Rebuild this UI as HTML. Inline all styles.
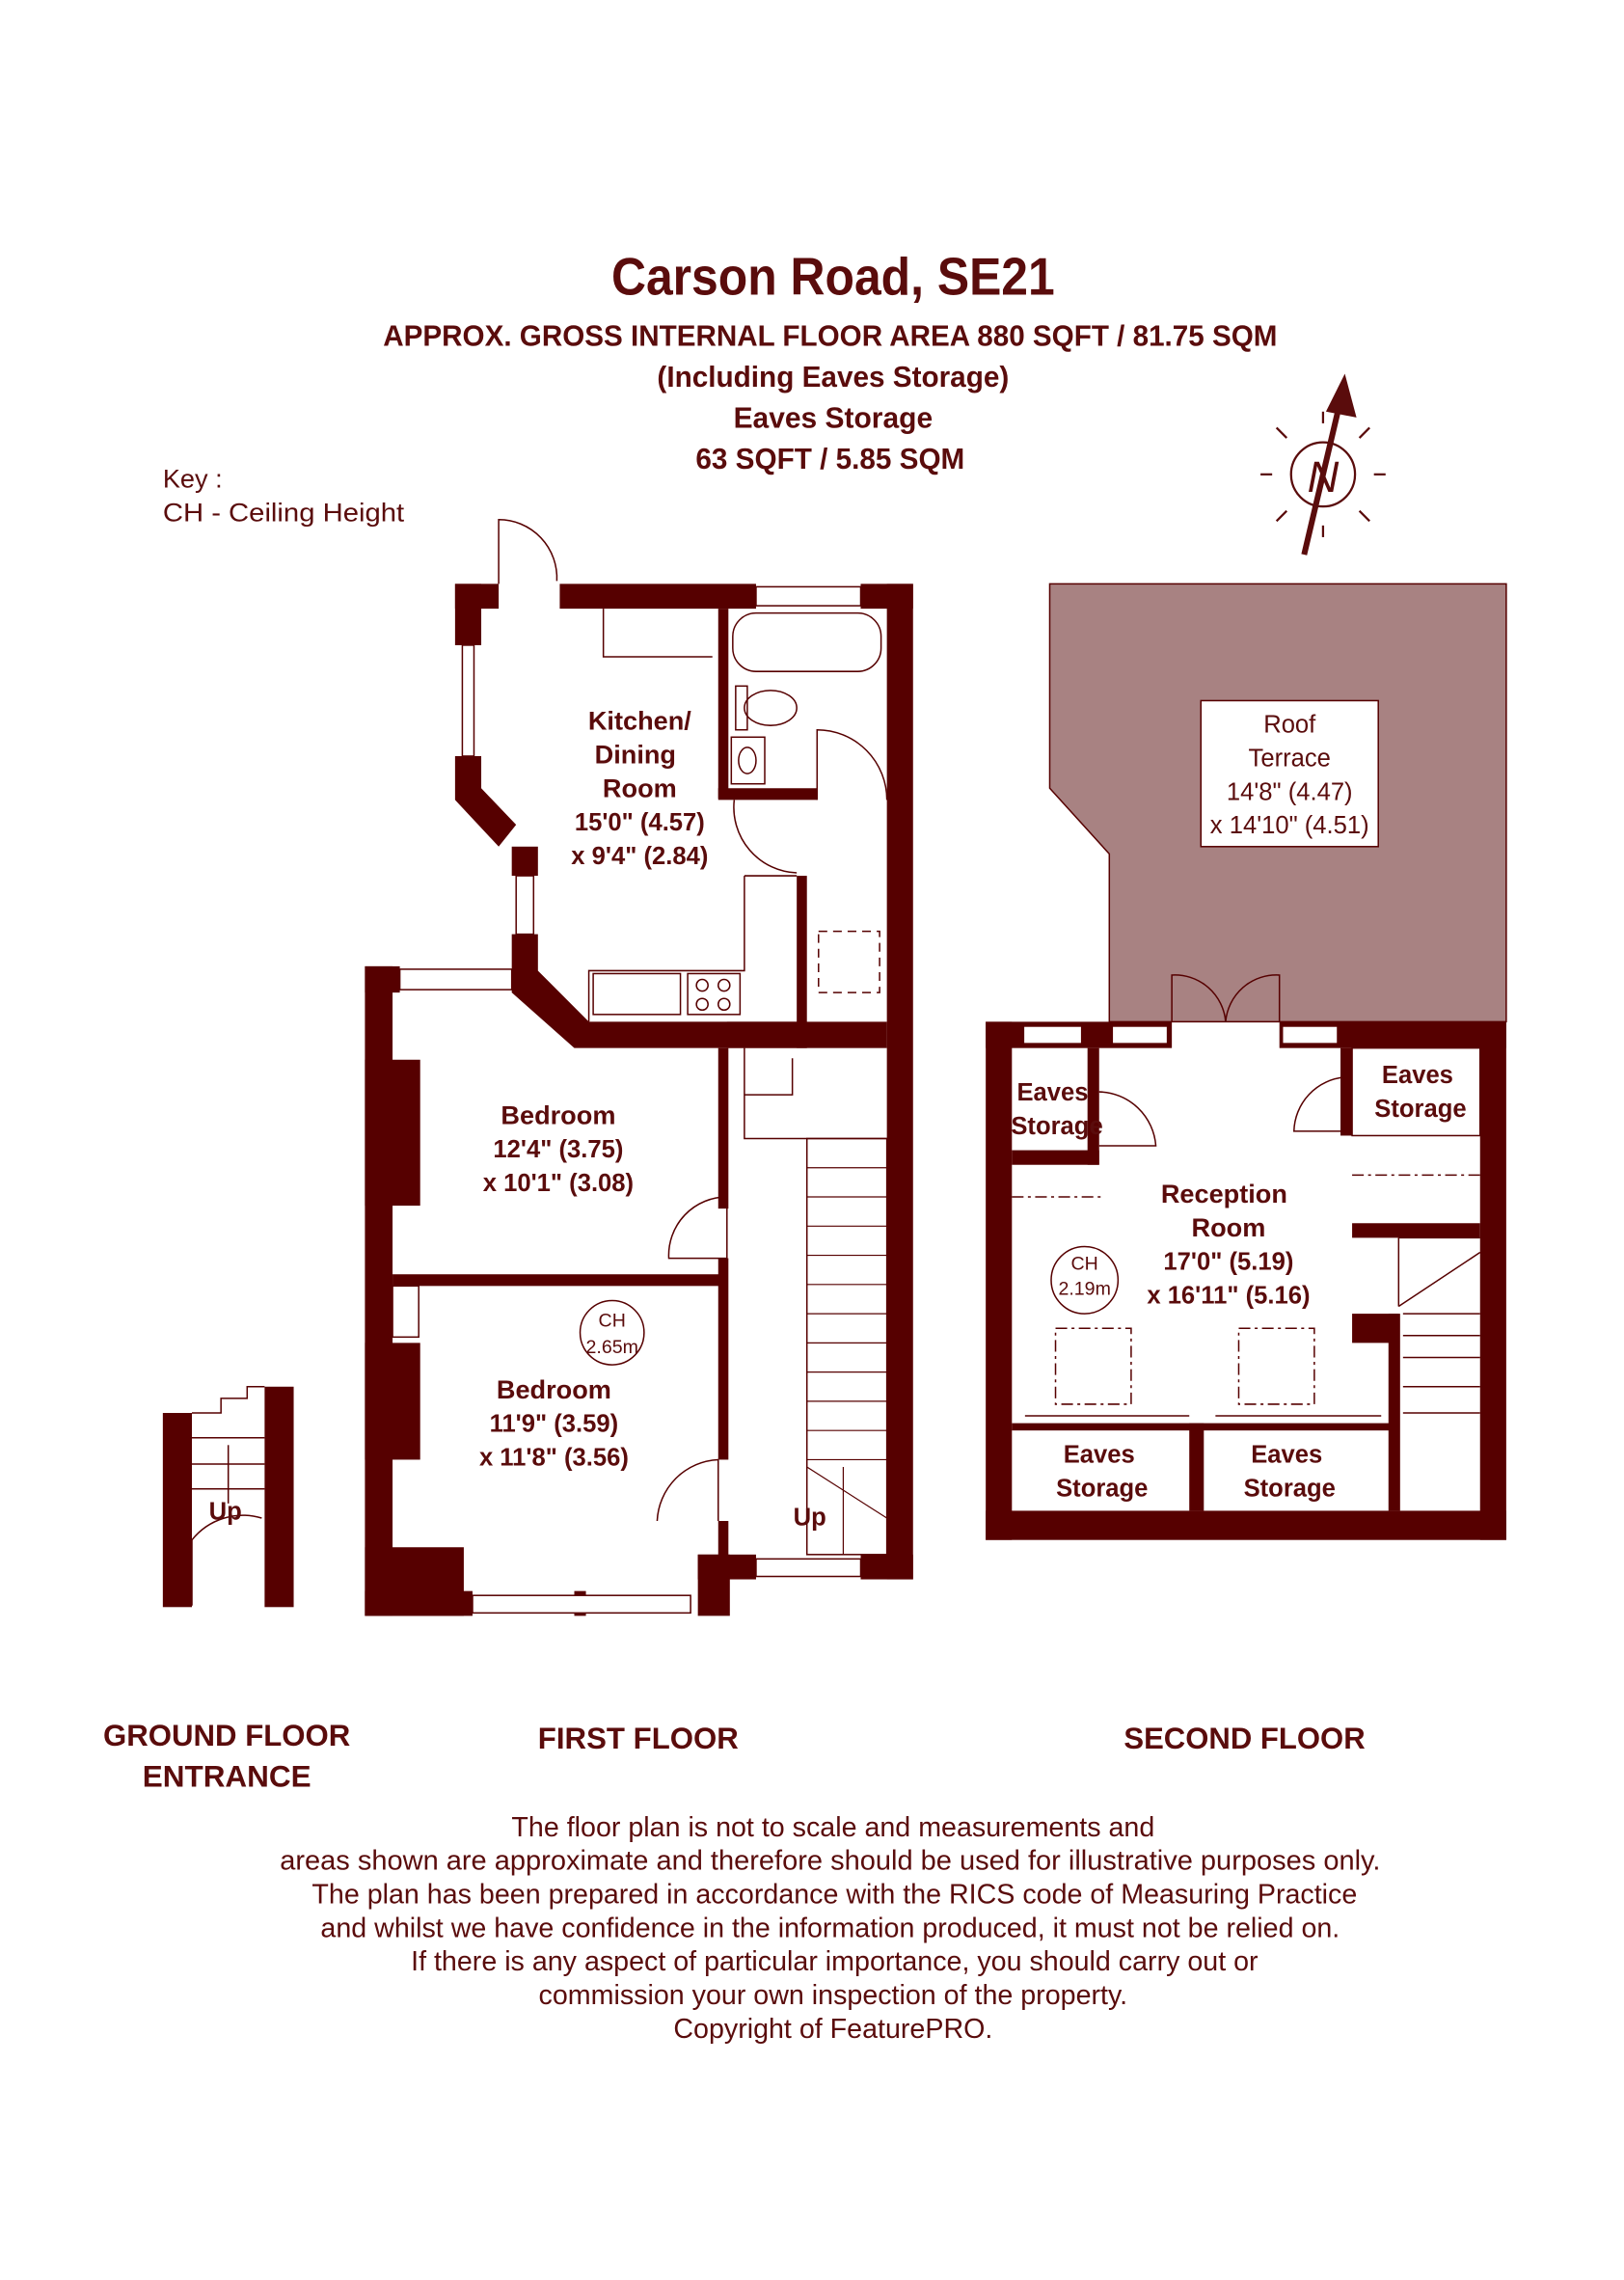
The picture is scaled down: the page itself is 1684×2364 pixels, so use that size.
<!DOCTYPE html>
<html><head><meta charset="utf-8"><style>
html,body{margin:0;padding:0;background:#fff;}
svg{display:block;}
text{font-family:"Liberation Sans",sans-serif;fill:#5a0c0c;}
.b{font-weight:bold;}
</style></head><body>
<svg width="1684" height="2364" viewBox="0 0 1117 1562" preserveAspectRatio="none" xmlns="http://www.w3.org/2000/svg">
<rect width="1117" height="1562" fill="#fff"/>
<text x="573" y="202" text-anchor="middle" class="b" font-size="36" textLength="305" lengthAdjust="spacingAndGlyphs">Carson Road, SE21</text>
<g class="b" font-size="20" text-anchor="middle" font-weight="bold">
<text x="571" y="237" font-weight="bold" textLength="615" lengthAdjust="spacingAndGlyphs">APPROX. GROSS INTERNAL FLOOR AREA 880 SQFT / 81.75 SQM</text>
<text x="573" y="265" font-weight="bold" textLength="242" lengthAdjust="spacingAndGlyphs">(Including Eaves Storage)</text>
<text x="573" y="293" font-weight="bold" textLength="137" lengthAdjust="spacingAndGlyphs">Eaves Storage</text>
<text x="571" y="321" font-weight="bold" textLength="185" lengthAdjust="spacingAndGlyphs">63 SQFT / 5.85 SQM</text>
</g>
<text x="112" y="334" font-size="18">Key :</text>
<text x="112" y="357" font-size="18" textLength="166" lengthAdjust="spacingAndGlyphs">CH - Ceiling Height</text>
<g stroke="#5a0c0c" fill="none" stroke-width="1.5">
<circle cx="910" cy="325" r="22"/>
<line x1="897" y1="380" x2="923" y2="270" stroke-width="4"/>
<line x1="875" y1="325" x2="867" y2="325"/><line x1="945" y1="325" x2="953" y2="325"/>
<line x1="885" y1="300" x2="878" y2="293"/><line x1="935" y1="300" x2="942" y2="293"/>
<line x1="885" y1="350" x2="878" y2="357"/><line x1="935" y1="350" x2="942" y2="357"/>
<line x1="910" y1="290" x2="910" y2="282"/><line x1="910" y1="360" x2="910" y2="368"/>
</g>
<polygon points="925,256 912,282 933,286" fill="#5a0c0c"/>
<text x="910" y="337" font-size="30" text-anchor="middle" font-style="italic" font-family="Liberation Serif,serif">N</text>

<g fill="#560000">
<rect x="313" y="400" width="30" height="17"/>
<rect x="385" y="400" width="135" height="17"/>
<rect x="592" y="400" width="36" height="17"/>
<rect x="313" y="400" width="18" height="42"/>
<rect x="313" y="518" width="18" height="30"/>
<polygon points="313,548 331,540 355,565 343,580"/>
<rect x="352" y="580" width="18" height="20"/>
<rect x="352" y="640" width="18" height="40"/>
<polygon points="352,680 370,665 405,700 555,700 555,718 395,718"/>
<rect x="610" y="400" width="18" height="682"/>
<rect x="251" y="662" width="24" height="18"/>
<rect x="251" y="662" width="19" height="445"/>
<rect x="251" y="726" width="38" height="100"/>
<rect x="251" y="920" width="38" height="80"/>
<rect x="251" y="1060" width="68" height="47"/>
<rect x="251" y="1090" width="74" height="17"/>
<rect x="395" y="1090" width="8" height="17"/>
<rect x="480" y="1065" width="22" height="42"/>
<rect x="480" y="1065" width="40" height="17"/>
<rect x="592" y="1065" width="36" height="17"/>
<rect x="494" y="417" width="7" height="130"/>
<rect x="494" y="540" width="68" height="8"/>
<rect x="548" y="600" width="7" height="118"/>
<rect x="270" y="873" width="230" height="8"/>
<rect x="494" y="718" width="7" height="110"/>
<rect x="494" y="862" width="7" height="138"/>
<rect x="494" y="1042" width="7" height="30"/>
<rect x="500" y="700" width="110" height="18"/>
</g>
<g fill="#fff" stroke="#560000" stroke-width="1">
<rect x="318" y="442" width="8" height="76"/>
<rect x="355" y="600" width="12" height="40"/>
<rect x="520" y="402" width="72" height="13"/>
<rect x="275" y="664" width="77" height="14"/>
<rect x="325" y="1093" width="150" height="12"/>
<rect x="520" y="1068" width="72" height="12"/>
</g>
<g fill="none" stroke="#560000" stroke-width="1">
<path d="M343,400 L343,356 A40,40 0 0 1 383,398"/>
<path d="M562,548 L562,500 A48,48 0 0 1 610,548"/>
<path d="M505,548 A45,45 0 0 0 548,598"/>
<path d="M460,862 A40,40 0 0 1 500,820 L500,862 Z"/>
<path d="M452,1042 A44,44 0 0 1 494,1000 L494,1042"/>
<path d="M512,718 L512,780 L610,780"/>
<path d="M512,750 L545,750 L545,725"/>
<rect x="504" y="420" width="102" height="40" rx="16"/>
<ellipse cx="530" cy="485" rx="18" ry="12"/>
<rect x="506" y="470" width="8" height="30"/>
<rect x="503" y="505" width="23" height="32"/>
<ellipse cx="514" cy="521" rx="6" ry="9"/>
<polyline points="415,417 415,450 490,450"/>
<polyline points="512,600 548,600"/>
<polyline points="512,600 512,665 405,665 405,700"/>
<rect x="408" y="667" width="60" height="28"/>
<rect x="473" y="667" width="36" height="28"/>
<circle cx="483" cy="675" r="4"/><circle cx="498" cy="675" r="4"/>
<circle cx="483" cy="688" r="4"/><circle cx="498" cy="688" r="4"/>
<rect x="563" y="638" width="42" height="42" stroke-dasharray="6,4"/>
<rect x="555" y="780" width="55" height="285"/>
<g stroke-width="0.8">
<line x1="555" y1="800" x2="610" y2="800"/><line x1="555" y1="820" x2="610" y2="820"/>
<line x1="555" y1="840" x2="610" y2="840"/><line x1="555" y1="860" x2="610" y2="860"/>
<line x1="555" y1="880" x2="610" y2="880"/><line x1="555" y1="900" x2="610" y2="900"/>
<line x1="555" y1="920" x2="610" y2="920"/><line x1="555" y1="940" x2="610" y2="940"/>
<line x1="555" y1="960" x2="610" y2="960"/><line x1="555" y1="980" x2="610" y2="980"/>
<line x1="555" y1="1000" x2="610" y2="1000"/><line x1="555" y1="1005" x2="610" y2="1040"/>
<line x1="580" y1="1005" x2="580" y2="1065"/>
</g>
<rect x="270" y="881" width="18" height="35"/>
<circle cx="421" cy="913" r="22"/>
</g>
<g class="b" font-weight="bold" text-anchor="middle">
<text x="440" y="500" font-size="18">Kitchen/</text>
<text x="437" y="523" font-size="18">Dining</text>
<text x="440" y="546" font-size="18">Room</text>
<text x="440" y="569" font-size="17">15'0" (4.57)</text>
<text x="440" y="592" font-size="17">x 9'4" (2.84)</text>
<text x="384" y="770" font-size="18">Bedroom</text>
<text x="384" y="793" font-size="17">12'4" (3.75)</text>
<text x="384" y="816" font-size="17">x 10'1" (3.08)</text>
<text x="381" y="958" font-size="18">Bedroom</text>
<text x="381" y="981" font-size="17">11'9" (3.59)</text>
<text x="381" y="1004" font-size="17">x 11'8" (3.56)</text>
<text x="557" y="1045" font-size="17">Up</text>
</g>
<text x="421" y="909" font-size="13" text-anchor="middle">CH</text>
<text x="421" y="927" font-size="13" text-anchor="middle">2.65m</text>

<g fill="#560000">
<rect x="112" y="968" width="20" height="133"/>
<rect x="182" y="950" width="20" height="151"/>
</g>
<g fill="none" stroke="#560000" stroke-width="1">
<polyline points="132,968 152,968 152,958 170,958 170,950 182,950"/>
<line x1="132" y1="985" x2="182" y2="985"/><line x1="132" y1="1003" x2="182" y2="1003"/>
<line x1="132" y1="1020" x2="182" y2="1020"/>
<path d="M132,1100 L132,1055 A45,45 0 0 1 180,1040"/>
<line x1="157" y1="990" x2="157" y2="1030"/>
</g>
<text x="155" y="1041" font-size="17" text-anchor="middle" font-weight="bold">Up</text>

<polygon points="722,400 1036,400 1036,700 763,700 763,585 722,540" fill="#a88282" stroke="#560000" stroke-width="1"/>
<rect x="826" y="480" width="122" height="100" fill="#fff" stroke="#560000"/>
<text x="887" y="502" font-size="17" text-anchor="middle">Roof</text>
<text x="887" y="525" font-size="17" text-anchor="middle">Terrace</text>
<text x="887" y="548" font-size="17" text-anchor="middle">14'8" (4.47)</text>
<text x="887" y="571" font-size="17" text-anchor="middle">x 14'10" (4.51)</text>
<g fill="#560000">
<rect x="678" y="700" width="18" height="355"/>
<rect x="678" y="1035" width="358" height="20"/>
<rect x="1018" y="700" width="18" height="355"/>
<rect x="678" y="700" width="128" height="18"/>
<rect x="880" y="700" width="156" height="18"/>
<rect x="696" y="788" width="60" height="10"/>
<rect x="748" y="718" width="8" height="80"/>
<rect x="922" y="718" width="8" height="60"/>
<rect x="930" y="838" width="88" height="10"/>
<rect x="930" y="900" width="32" height="20"/>
<rect x="955" y="900" width="8" height="135"/>
<rect x="818" y="975" width="10" height="60"/>
<rect x="696" y="975" width="260" height="5"/>
</g>
<g fill="#fff" stroke="#560000" stroke-width="1">
<rect x="704" y="703" width="40" height="12"/>
<rect x="765" y="703" width="38" height="12"/>
<rect x="882" y="703" width="38" height="12"/>
<rect x="930" y="718" width="88" height="60"/>
</g>
<g fill="none" stroke="#560000" stroke-width="1">
<path d="M806,700 L806,668 A35,35 0 0 1 843,700"/>
<path d="M880,700 L880,668 A35,35 0 0 0 843,700"/>
<path d="M756,748 A40,40 0 0 1 795,785 L756,785"/>
<path d="M890,775 A38,38 0 0 1 925,738 L925,775 Z"/>
<line x1="696" y1="820" x2="758" y2="820" stroke-dasharray="8,3,2,3"/>
<line x1="930" y1="805" x2="1018" y2="805" stroke-dasharray="8,3,2,3"/>
<rect x="726" y="910" width="52" height="52" stroke-dasharray="8,3,2,3"/>
<rect x="852" y="910" width="52" height="52" stroke-dasharray="8,3,2,3"/>
<circle cx="746" cy="877" r="23"/>
<line x1="962" y1="848" x2="1018" y2="848"/>
<line x1="962" y1="895" x2="1018" y2="858"/>
<line x1="962" y1="848" x2="962" y2="895"/>
<line x1="965" y1="900" x2="1018" y2="900"/><line x1="965" y1="915" x2="1018" y2="915"/>
<line x1="965" y1="930" x2="1018" y2="930"/><line x1="965" y1="950" x2="1018" y2="950"/>
<line x1="965" y1="968" x2="1018" y2="968"/>
<line x1="705" y1="970" x2="818" y2="970"/><line x1="836" y1="970" x2="950" y2="970"/>
</g>
<g font-weight="bold" text-anchor="middle">
<text x="724" y="754" font-size="17">Eaves</text>
<text x="727" y="777" font-size="17">Storage</text>
<text x="975" y="742" font-size="17">Eaves</text>
<text x="977" y="765" font-size="17">Storage</text>
<text x="842" y="824" font-size="18">Reception</text>
<text x="845" y="847" font-size="18">Room</text>
<text x="845" y="870" font-size="17">17'0" (5.19)</text>
<text x="845" y="893" font-size="17">x 16'11" (5.16)</text>
<text x="756" y="1002" font-size="17">Eaves</text>
<text x="758" y="1025" font-size="17">Storage</text>
<text x="885" y="1002" font-size="17">Eaves</text>
<text x="887" y="1025" font-size="17">Storage</text>
</g>
<text x="746" y="870" font-size="13" text-anchor="middle">CH</text>
<text x="746" y="887" font-size="13" text-anchor="middle">2.19m</text>

<g font-weight="bold" text-anchor="middle" font-size="21">
<text x="156" y="1196" textLength="170" lengthAdjust="spacingAndGlyphs">GROUND FLOOR</text>
<text x="156" y="1224" textLength="116" lengthAdjust="spacingAndGlyphs">ENTRANCE</text>
<text x="439" y="1198" textLength="138" lengthAdjust="spacingAndGlyphs">FIRST FLOOR</text>
<text x="856" y="1198" textLength="166" lengthAdjust="spacingAndGlyphs">SECOND FLOOR</text>
</g>
<g font-size="19" text-anchor="middle">
<text x="573" y="1258">The floor plan is not to scale and measurements and</text>
<text x="571" y="1281" textLength="757" lengthAdjust="spacingAndGlyphs">areas shown are approximate and therefore should be used for illustrative purposes only.</text>
<text x="574" y="1304">The plan has been prepared in accordance with the RICS code of Measuring Practice</text>
<text x="571" y="1327">and whilst we have confidence in the information produced, it must not be relied on.</text>
<text x="574" y="1350">If there is any aspect of particular importance, you should carry out or</text>
<text x="573" y="1373">commission your own inspection of the property.</text>
<text x="573" y="1396">Copyright of FeaturePRO.</text>
</g>
</svg>
</body></html>
